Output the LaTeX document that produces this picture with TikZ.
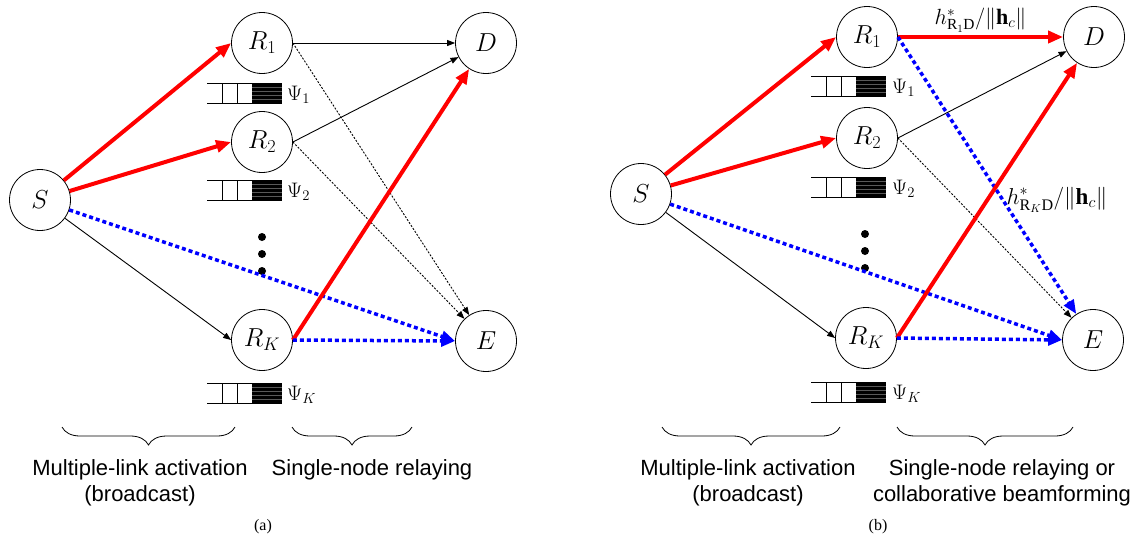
\RequirePackage{fix-cm}
\documentclass[tikz,border=0pt]{standalone}
\usepackage{fontspec}
\setmainfont{Liberation Serif}
\setsansfont{Liberation Sans}
\usepackage{amsmath}
\usetikzlibrary{arrows.meta, decorations.pathreplacing}

\tikzset{
  station/.style={draw, circle, line width=0.8pt, minimum size=61pt, inner sep=0pt, font=\fontsize{26}{30}\selectfont},
  redarr/.style={draw=red, line width=4pt, -{Triangle[length=15pt,width=12pt]}},
  bluearr/.style={draw=blue, line width=3.5pt, dash pattern=on 4pt off 3pt, -{Triangle[length=14pt,width=11pt]}},
  thinarr/.style={draw=black, line width=0.9pt, -{Triangle[length=8pt,width=6pt]}},
  dasharr/.style={thinarr, dash pattern=on 2pt off 1.5pt},
  qlabel/.style={anchor=west, inner sep=0pt, font=\fontsize{21}{24}\selectfont},
  gainlabel/.style={font=\fontsize{22}{24}\selectfont},
  caption/.style={align=center, font=\sffamily\fontsize{22}{26}\selectfont},
  underbrace/.style={decorate, decoration={brace, mirror, amplitude=18pt}, line width=0.8pt},
  buffer/.pic={
    \draw[line width=0.8pt] (0,0) -- (75,0) (0,20) -- (75,20) (15,0) -- (15,20) (30,0) -- (30,20);
    \fill (45,0) rectangle (75,20);
    \foreach \yy in {4,8,12,16}
      \draw[black!65, line width=0.3pt] (45,\yy) -- (75,\yy);
  }
}

\begin{document}
\begin{tikzpicture}[x=1pt, y=-1pt]
    \useasboundingbox (0,0) rectangle (1137,547);

    % Part (a)
    \node[station] (Sa) at (40,200) {$S$};
    \node[station] (R1a) at (262,43) {$R_1$};
    \node[station] (R2a) at (262,142) {$R_2$};
    \node[station] (RKa) at (262,340) {$R_K$};
    \node[station] (Da) at (486,43) {$D$};
    \node[station] (Ea) at (486,341) {$E$};

    % queues
    \pic at (207,83) {buffer};
    \node[qlabel] (psi1a) at (287,95) {$\Psi_1$};
    \pic at (207,180) {buffer};
    \node[qlabel] (psi2a) at (287,192) {$\Psi_2$};
    \pic at (207,383) {buffer};
    \node[qlabel] (psiKa) at (287,395) {$\Psi_K$};

    \fill (262,237) circle (4) (262,254) circle (4) (262,271) circle (4);

    % links
    \draw[thinarr] (Sa) -- (RKa.west);
    \draw[thinarr] (R1a.east) -- (Da.west);
    \draw[dasharr] (R1a.east) -- (Ea);
    \draw[thinarr] (R2a.east) -- (Da);
    \draw[dasharr] (R2a.east) -- (Ea);
    \draw[redarr] (Sa) -- (R1a.west);
    \draw[redarr] (Sa) -- (R2a.west);
    \draw[bluearr] (Sa) -- (Ea.west);
    \draw[redarr] (RKa.east) -- (Da);
    \draw[bluearr] (RKa.east) -- (Ea.west);

    \draw[underbrace] (62,427) -- (235,427);
    \draw[underbrace] (292,427) -- (412,427);
    \node[caption] (phase1a) at (140,483) {Multiple-link activation\\(broadcast)};
    \node[caption] (phase2a) at (372,470) {Single-node relaying};
    \node[font=\rmfamily\fontsize{16}{18}\selectfont] (capa) at (263,527) {(a)};

    % Part (b)
    \node[station] (Sb) at (641,194) {$S$};
    \node[station] (R1b) at (867,37) {$R_1$};
    \node[station] (R2b) at (867,138) {$R_2$};
    \node[station] (RKb) at (866,338) {$R_K$};
    \node[station] (Db) at (1094,37) {$D$};
    \node[station] (Eb) at (1093,340) {$E$};

    % queues
    \pic at (811,76) {buffer};
    \node[qlabel] (psi1b) at (892,88) {$\Psi_1$};
    \pic at (811,177) {buffer};
    \node[qlabel] (psi2b) at (892,189) {$\Psi_2$};
    \pic at (811,382) {buffer};
    \node[qlabel] (psiKb) at (892,394) {$\Psi_K$};

    \fill (865,234) circle (4) (865,251) circle (4) (865,268) circle (4);

    % links
    \draw[thinarr] (Sb) -- (RKb.west);
    \draw[thinarr] (R2b.east) -- (Db);
    \draw[dasharr] (R2b.east) -- (Eb);
    \draw[redarr] (Sb) -- (R1b.west);
    \draw[redarr] (Sb) -- (R2b.west);
    \draw[bluearr] (Sb) -- (Eb.west);
    \draw[redarr] (R1b.east) -- node[gainlabel, above=3pt, inner sep=0pt] (gain1) {$h^{*}_{\mathrm{R}_1\mathrm{D}}/\|\mathbf{h}_c\|$} (Db.west);
    \draw[bluearr] (R1b.east) -- (Eb);
    \draw[redarr] (RKb.east) -- (Db);
    \draw[bluearr] (RKb.east) -- (Eb.west);
    \node[gainlabel, font=\fontsize{23}{26}\selectfont] (gainK) at (1057,200) {$h^{*}_{\mathrm{R}_K\mathrm{D}}/\|\mathbf{h}_c\|$};

    \draw[underbrace] (662,427) -- (840,427);
    \draw[underbrace] (897,427) -- (1073,427);
    \node[caption] (phase1b) at (748,483) {Multiple-link activation\\(broadcast)};
    \node[caption] (phase2b) at (1002,483) {Single-node relaying or\\collaborative beamforming};
    \node[font=\rmfamily\fontsize{16}{18}\selectfont] (capb) at (878,527) {(b)};
\end{tikzpicture}
\end{document}
